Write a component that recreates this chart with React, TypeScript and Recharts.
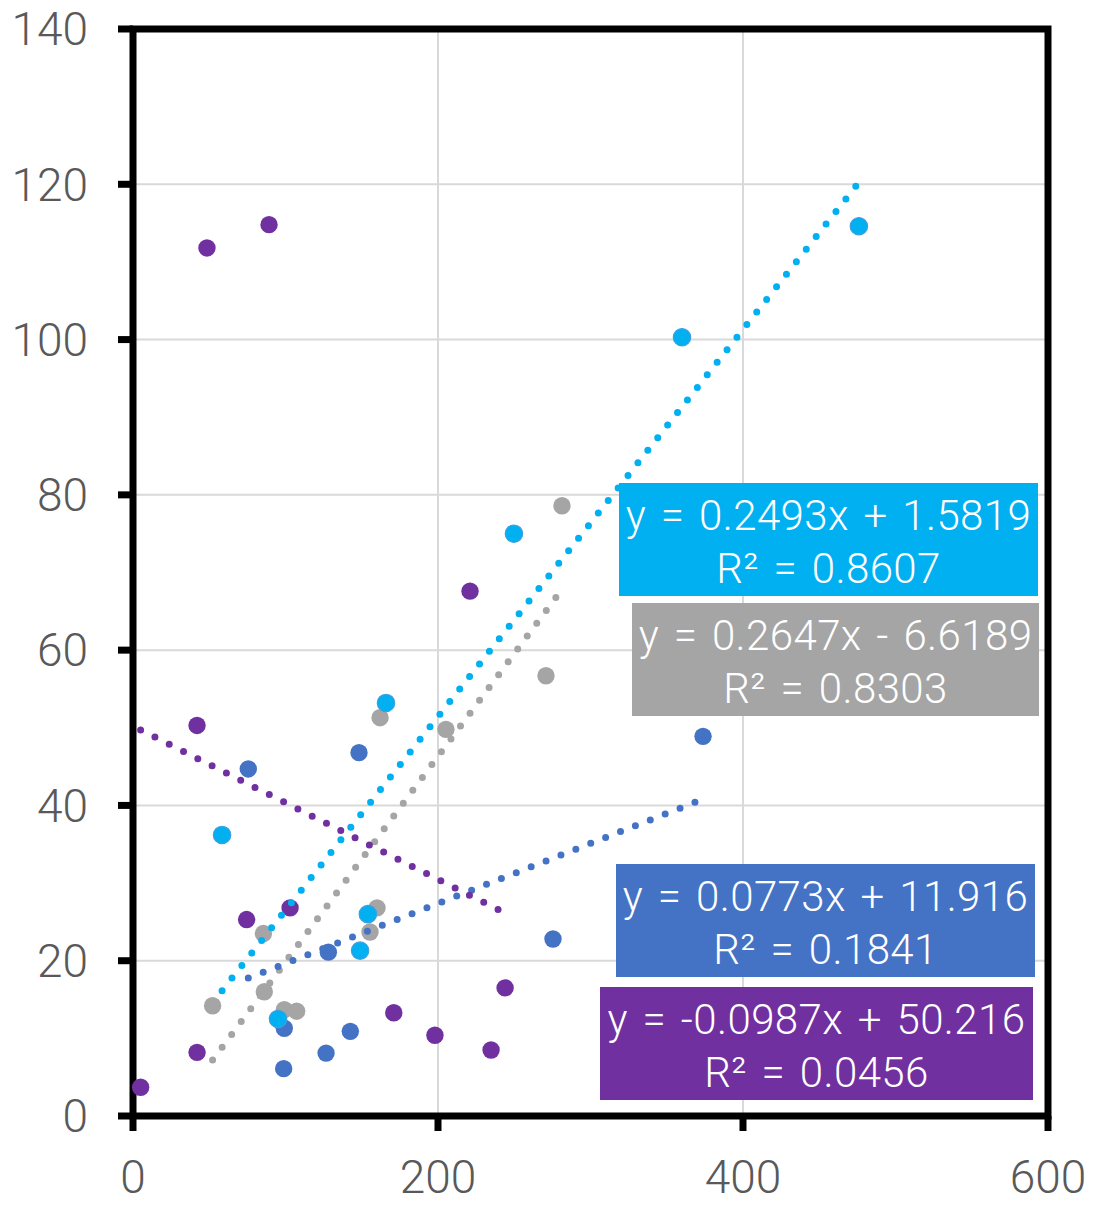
import React from 'react';
import { ScatterChart, Scatter, XAxis, YAxis, CartesianGrid, Customized } from 'recharts';

const xTicks = [0, 200, 400, 600];
const yTicks = [0, 20, 40, 60, 80, 100, 120, 140];

const cyanPoints = [
  { x: 476, y: 114.6 }, { x: 360, y: 100.3 }, { x: 249.8, y: 75.0 }, { x: 165.9, y: 53.2 },
  { x: 58.4, y: 36.2 }, { x: 154, y: 26.0 }, { x: 148.9, y: 21.3 }, { x: 95.1, y: 12.5 },
];
const greyPoints = [
  { x: 281.3, y: 78.6 }, { x: 270.8, y: 56.7 }, { x: 205.2, y: 49.8 }, { x: 162, y: 51.3 },
  { x: 160, y: 26.8 }, { x: 155.4, y: 23.7 }, { x: 85.5, y: 23.5 }, { x: 86.1, y: 16.0 },
  { x: 52.2, y: 14.2 }, { x: 99.2, y: 13.7 }, { x: 107.3, y: 13.5 },
];
const bluePoints = [
  { x: 373.8, y: 48.9 }, { x: 275.4, y: 22.8 }, { x: 75.6, y: 44.7 }, { x: 148.2, y: 46.8 },
  { x: 128.1, y: 21.1 }, { x: 99.2, y: 11.3 }, { x: 142.5, y: 10.9 }, { x: 126.6, y: 8.1 },
  { x: 98.8, y: 6.1 },
];
const purplePoints = [
  { x: 48.5, y: 111.8 }, { x: 89.2, y: 114.8 }, { x: 221, y: 67.6 }, { x: 42, y: 50.3 },
  { x: 74.5, y: 25.3 }, { x: 103, y: 26.8 }, { x: 171, y: 13.3 }, { x: 198, y: 10.4 },
  { x: 234.8, y: 8.5 }, { x: 244, y: 16.5 }, { x: 42, y: 8.2 }, { x: 5, y: 3.7 },
];

// trendline coefficients as shown in the labels
const cyanFit = { slope: 0.2493, intercept: 1.5819 };
const greyFit = { slope: 0.2647, intercept: -6.6189 };
const blueFit = { slope: 0.0773, intercept: 11.916 };
const purpleFit = { slope: -0.0987, intercept: 50.216 };

const cyanLabel = ['y = 0.2493x + 1.5819', 'R² = 0.8607'];
const greyLabel = ['y = 0.2647x - 6.6189', 'R² = 0.8303'];
const blueLabel = ['y = 0.0773x + 11.916', 'R² = 0.1841'];
const purpleLabel = ['y = -0.0987x + 50.216', 'R² = 0.0456'];

const CYAN = '#00B0F0';
const GREY = '#A5A5A5';
const BLUE = '#4472C4';
const PURPLE = '#7030A0';

function trend(points: { x: number; y: number }[], fit: { slope: number; intercept: number }) {
  const xs = points.map((p) => p.x);
  const x0 = Math.min(...xs);
  const x1 = Math.max(...xs);
  return [
    { x: x0, y: fit.slope * x0 + fit.intercept },
    { x: x1, y: fit.slope * x1 + fit.intercept },
  ];
}

const dot = (color: string, ring?: string) => (props: any) => (
  <circle cx={props.cx} cy={props.cy} r={8.7} fill={color} stroke={ring || 'none'} strokeWidth={ring ? 1.2 : 0} />
);
const none = () => <g />;

const lineStyle = (color: string) => ({
  stroke: color,
  strokeWidth: 7,
  strokeDasharray: '0 16',
  strokeLinecap: 'round' as const,
  fill: 'none',
});

const FONT = 'Roboto, "Open Sans", sans-serif';

const boxes = [
  { lines: cyanLabel, color: CYAN, x: 619, y: 483, w: 419, h: 113 },
  { lines: greyLabel, color: GREY, x: 632, y: 603, w: 407, h: 113 },
  { lines: blueLabel, color: BLUE, x: 616, y: 864, w: 419, h: 113 },
  { lines: purpleLabel, color: PURPLE, x: 600, y: 987, w: 433, h: 113 },
];

const Overlay = () => (
  <g>
    <rect x={133} y={29} width={915} height={1087} fill="none" stroke="#000" strokeWidth={7} />
    {boxes.map((b, i) => (
      <g key={i}>
        <rect x={b.x} y={b.y} width={b.w} height={b.h} fill={b.color} />
        {b.lines.map((t, j) => (
          <text
            key={j}
            x={b.x + b.w / 2}
            y={b.y + 47 + j * 53}
            textAnchor="middle"
            fill="#fff"
            fontSize={42}
            fontWeight={300}
            fontFamily={FONT}
            wordSpacing={4}
            letterSpacing={0.4}
          >
            {t}
          </text>
        ))}
      </g>
    ))}
  </g>
);

const tickStyle = { fill: '#595959', fontSize: 46, fontFamily: FONT, fontWeight: 300 };

export default function App() {
  return (
    <div style={{ position: 'absolute', left: 0, top: 0, background: '#fff' }}>
      <ScatterChart width={1102} height={1211} margin={{ top: 29, right: 54, bottom: 0, left: 0 }}>
        <CartesianGrid stroke="#D9D9D9" strokeWidth={2} />
        <XAxis
          type="number"
          dataKey="x"
          domain={[0, 600]}
          ticks={xTicks}
          interval={0}
          height={95}
          tickSize={15}
          tickMargin={29}
          axisLine={false}
          tickLine={{ stroke: '#000', strokeWidth: 7 }}
          tick={tickStyle}
        />
        <YAxis
          type="number"
          dataKey="y"
          domain={[0, 140]}
          ticks={yTicks}
          interval={0}
          width={133}
          tickSize={15}
          tickMargin={30}
          axisLine={false}
          tickLine={{ stroke: '#000', strokeWidth: 7 }}
          tick={tickStyle}
        />
        <Scatter data={greyPoints} fill={GREY} shape={dot(GREY)} isAnimationActive={false} />
        <Scatter data={bluePoints} fill={BLUE} shape={dot(BLUE)} isAnimationActive={false} />
        <Scatter data={purplePoints} fill={PURPLE} shape={dot(PURPLE)} isAnimationActive={false} />
        <Scatter data={cyanPoints} fill={CYAN} shape={dot(CYAN, '#3F9FE0')} isAnimationActive={false} />
        <Scatter data={trend(greyPoints, greyFit)} fill={GREY} shape={none} line={lineStyle(GREY)} isAnimationActive={false} />
        <Scatter data={trend(bluePoints, blueFit)} fill={BLUE} shape={none} line={lineStyle(BLUE)} isAnimationActive={false} />
        <Scatter data={trend(cyanPoints, cyanFit)} fill={CYAN} shape={none} line={lineStyle(CYAN)} isAnimationActive={false} />
        <Scatter data={trend(purplePoints, purpleFit)} fill={PURPLE} shape={none} line={lineStyle(PURPLE)} isAnimationActive={false} />
        <Customized component={Overlay} />
      </ScatterChart>
    </div>
  );
}
